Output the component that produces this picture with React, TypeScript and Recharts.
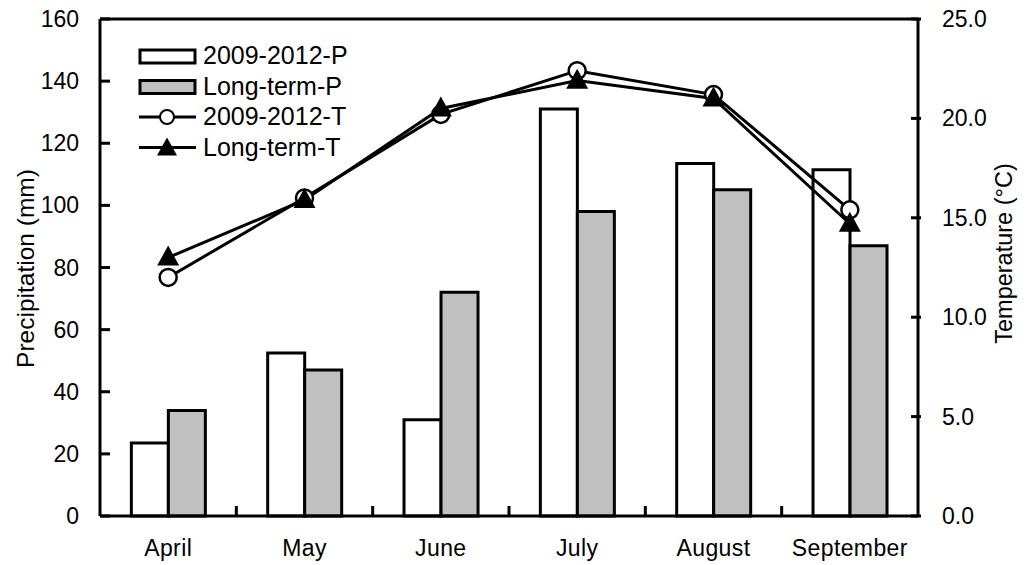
import { ComposedChart, Bar, Line, XAxis, YAxis, ReferenceLine } from 'recharts'

const months = ['April', 'May', 'June', 'July', 'August', 'September']
const precip0912 = [23.5, 52.5, 31, 131, 113.5, 111.5]
const precipLong = [34, 47, 72, 98, 105, 87]
const temp0912 = [12.0, 16.0, 20.2, 22.4, 21.2, 15.4]
const tempLong = [13.0, 15.9, 20.5, 21.9, 21.0, 14.7]
const precipTicks = [0, 20, 40, 60, 80, 100, 120, 140, 160]
const tempTicks = [0, 5, 10, 15, 20, 25]

const data = months.map((m, i) => ({
  month: m,
  p0912: precip0912[i],
  pLong: precipLong[i],
  t0912: temp0912[i],
  tLong: tempLong[i],
}))

const W = 1031
const H = 565
const margin = { top: 19, right: 33, left: 20, bottom: 14 }
const Y_AXIS_W = 80
const plotWidth = W - margin.left - margin.right - 2 * Y_AXIS_W
const plotBottom = H - margin.bottom - 35
const TICK_LEN = 10

const font = 'Arial, "Liberation Sans", sans-serif'

const Triangle = (props: any) => {
  const { cx, cy } = props
  if (cx == null || cy == null) return null
  return <path d={`M${cx},${cy - 12} L${cx + 11},${cy + 8} L${cx - 11},${cy + 8} Z`} fill="#000" />
}

const Circle = (props: any) => {
  const { cx, cy } = props
  if (cx == null || cy == null) return null
  return <circle cx={cx} cy={cy} r={8.5} fill="#fff" stroke="#000" strokeWidth={2.5} />
}

// month label at band centre, tick marks at band boundaries pointing up into the plot
const MonthTick = (props: any) => {
  const { x, payload } = props
  const band = plotWidth / months.length
  const i = months.indexOf(payload.value)
  const bx = x - band / 2
  return (
    <g>
      {i > 0 && <rect x={bx - 1.5} y={plotBottom - TICK_LEN} width={3} height={TICK_LEN} fill="#000" />}
      <text x={x} y={plotBottom + 40} textAnchor="middle" fontSize={23} letterSpacing={0.4} fontFamily={font} fill="#000">
        {payload.value}
      </text>
    </g>
  )
}

// value label outside the axis with a short tick mark pointing into the plot
const makeYTick = (side: 'left' | 'right', fmt: (v: number) => string) => (props: any) => {
  const { x, y, payload } = props
  const dir = side === 'left' ? 1 : -1
  const axisX = x + dir * 21
  return (
    <g>
      <rect x={dir > 0 ? axisX : axisX - TICK_LEN} y={y - 1.5} width={TICK_LEN} height={3} fill="#000" />
      <text
        x={x}
        y={y}
        textAnchor={side === 'left' ? 'end' : 'start'}
        dominantBaseline="central"
        fontSize={23}
        fontFamily={font}
        fill="#000"
      >
        {fmt(payload.value)}
      </text>
    </g>
  )
}

const LeftTick = makeYTick('left', (v) => String(v))
const RightTick = makeYTick('right', (v) => v.toFixed(1))

const legendItems = [
  { label: '2009-2012-P', kind: 'bar', fill: '#fff' },
  { label: 'Long-term-P', kind: 'bar', fill: '#c0c0c0' },
  { label: '2009-2012-T', kind: 'circle' },
  { label: 'Long-term-T', kind: 'triangle' },
]

function LegendBox() {
  return (
    <svg width={230} height={130} style={{ position: 'absolute', left: 137, top: 40 }}>
      {legendItems.map((it, i) => {
        const y = 16 + i * 30.5
        return (
          <g key={it.label}>
            {it.kind === 'bar' && (
              <rect x={3} y={y - 6} width={55} height={13} fill={it.fill} stroke="#000" strokeWidth={3} />
            )}
            {it.kind !== 'bar' && <line x1={2} x2={59} y1={y} y2={y} stroke="#000" strokeWidth={3} />}
            {it.kind === 'circle' && <circle cx={30} cy={y} r={7} fill="#fff" stroke="#000" strokeWidth={2} />}
            {it.kind === 'triangle' && <path d={`M30,${y - 10} L40,${y + 8} L20,${y + 8} Z`} fill="#000" />}
            <text x={66} y={y + 8} fontSize={25} fontFamily={font} fill="#000">{it.label}</text>
          </g>
        )
      })}
    </svg>
  )
}

export default function App() {
  return (
    <div style={{ position: 'absolute', left: 0, top: 0, width: W, height: H, background: '#fff' }}>
      <ComposedChart width={W} height={H} data={data} margin={margin} barCategoryGap="23%" barGap={0}>
        <XAxis
          dataKey="month"
          height={35}
          axisLine={{ stroke: '#000', strokeWidth: 3 }}
          tickLine={false}
          tick={<MonthTick />}
          tickSize={0}
          interval={0}
        />
        <YAxis
          yAxisId="left"
          domain={[0, 160]}
          ticks={precipTicks}
          width={Y_AXIS_W}
          axisLine={{ stroke: '#000', strokeWidth: 3 }}
          tickLine={false}
          tickSize={0}
          tickMargin={21}
          tick={<LeftTick />}
          label={{
            content: ({ viewBox }: any) => {
              const cx = viewBox.x + 5
              const cy = viewBox.y + viewBox.height / 2 + 1
              return (
                <text
                  x={cx}
                  y={cy}
                  transform={`rotate(-90, ${cx}, ${cy})`}
                  textAnchor="middle"
                  dominantBaseline="central"
                  fontSize={24.5}
                  fontFamily={font}
                  fill="#000"
                >
                  Precipitation (mm)
                </text>
              )
            },
          }}
        />
        <YAxis
          yAxisId="right"
          orientation="right"
          domain={[0, 25]}
          ticks={tempTicks}
          width={Y_AXIS_W}
          axisLine={{ stroke: '#000', strokeWidth: 3 }}
          tickLine={false}
          tickSize={0}
          tickMargin={24}
          tick={<RightTick />}
          label={{
            content: ({ viewBox }: any) => {
              const cx = viewBox.x + 86
              const cy = viewBox.y + viewBox.height / 2 - 14
              return (
                <text
                  x={cx}
                  y={cy}
                  transform={`rotate(-90, ${cx}, ${cy})`}
                  textAnchor="middle"
                  dominantBaseline="central"
                  fontSize={23.5}
                  fontFamily={font}
                  fill="#000"
                >
                  Temperature (°C)
                </text>
              )
            },
          }}
        />
        <ReferenceLine yAxisId="left" y={160} stroke="#000" strokeWidth={3} />
        <Bar yAxisId="left" dataKey="p0912" name="2009-2012-P" fill="#fff" stroke="#000" strokeWidth={3} isAnimationActive={false} />
        <Bar yAxisId="left" dataKey="pLong" name="Long-term-P" fill="#c0c0c0" stroke="#000" strokeWidth={3} isAnimationActive={false} />
        <Line yAxisId="right" dataKey="t0912" name="2009-2012-T" stroke="#000" strokeWidth={3} dot={<Circle />} activeDot={false} isAnimationActive={false} />
        <Line yAxisId="right" dataKey="tLong" name="Long-term-T" stroke="#000" strokeWidth={3} dot={<Triangle />} activeDot={false} isAnimationActive={false} />
      </ComposedChart>
      <LegendBox />
    </div>
  )
}
